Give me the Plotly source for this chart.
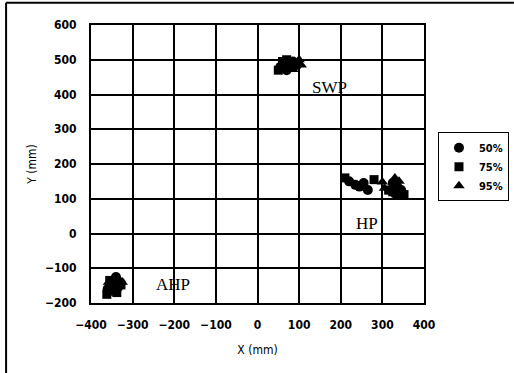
import plotly.graph_objects as go

# Series data (mm)
x50 = [-355, -345, -335, -350, -340, -330, -360, 55, 65, 75, 85, 95, 70, 220, 235, 245, 255, 265, 325, 335, 345, 330]
y50 = [-150, -135, -155, -165, -125, -140, -160, 480, 490, 485, 495, 485, 470, 150, 140, 135, 145, 125, 145, 135, 125, 115]
x75 = [-362, -348, -328, -338, -355, 60, 70, 80, 50, 210, 280, 315, 340, 352, 325]
y75 = [-175, -145, -148, -170, -135, 495, 500, 478, 470, 160, 155, 125, 110, 112, 120]
x95 = [-345, -325, -358, 90, 100, 85, 105, 300, 330, 345, 320, 340, 305]
y95 = [-160, -140, -140, 490, 500, 472, 485, 148, 160, 128, 120, 150, 130]

labels_txt = ["SWP", "HP", "AHP"]
labels_x = [172, 262, -203]
labels_y = [421, 30, -148]

xticks = [-400, -300, -200, -100, 0, 100, 200, 300, 400]
yticks = [-200, -100, 0, 100, 200, 300, 400, 500, 600]

fig = go.Figure()
fig.add_trace(go.Scatter(x=x50, y=y50, mode="markers", name="50%",
                         marker=dict(symbol="circle", size=10, color="black")))
fig.add_trace(go.Scatter(x=x75, y=y75, mode="markers", name="75%",
                         marker=dict(symbol="square", size=9, color="black")))
fig.add_trace(go.Scatter(x=x95, y=y95, mode="markers", name="95%",
                         marker=dict(symbol="triangle-up", size=10, color="black")))

for t, ax, ay in zip(labels_txt, labels_x, labels_y):
    fig.add_annotation(x=ax, y=ay, text=t, showarrow=False,
                       font=dict(family="Liberation Serif", size=17, color="black"))

# outer figure border (left and top)
fig.add_shape(type="line", xref="paper", yref="paper", x0=-0.255, x1=-0.255, y0=-0.26, y1=1.08,
              line=dict(color="black", width=2))
fig.add_shape(type="line", xref="paper", yref="paper", x0=-0.255, x1=1.27, y0=1.08, y1=1.08,
              line=dict(color="black", width=2))

axis_font = dict(family="DejaVu Sans Condensed", size=12, color="black", weight="bold")
title_font = dict(family="DejaVu Sans Condensed", size=12, color="black")
fig.update_layout(
    width=514, height=373,
    margin=dict(l=91, r=90, t=25, b=70, autoexpand=False),
    plot_bgcolor="white", paper_bgcolor="white",
    showlegend=True,
    legend=dict(x=1.042, y=0.49, xanchor="left", yanchor="middle",
                bordercolor="black", borderwidth=1,
                font=dict(family="DejaVu Sans Condensed", size=11, color="black", weight="bold"),
                itemwidth=30, tracegroupgap=0),
    xaxis=dict(range=[-400, 400], tickvals=xticks, showgrid=True, gridcolor="black", gridwidth=2,
               zeroline=False, showline=True, linecolor="black", linewidth=2, mirror=True,
               ticks="", tickfont=axis_font, ticklabelstandoff=10,
               title=dict(text="X (mm)", font=title_font, standoff=14)),
    yaxis=dict(range=[-200, 600], tickvals=yticks, showgrid=True, gridcolor="black", gridwidth=2,
               zeroline=False, showline=True, linecolor="black", linewidth=2, mirror=True,
               ticks="", tickfont=axis_font, ticklabelstandoff=10,
               title=dict(text="Y (mm)", font=title_font, standoff=6)),
)

fig.write_html("out.html", config={"displayModeBar": False},
               post_script="document.body.style.margin='0';")
